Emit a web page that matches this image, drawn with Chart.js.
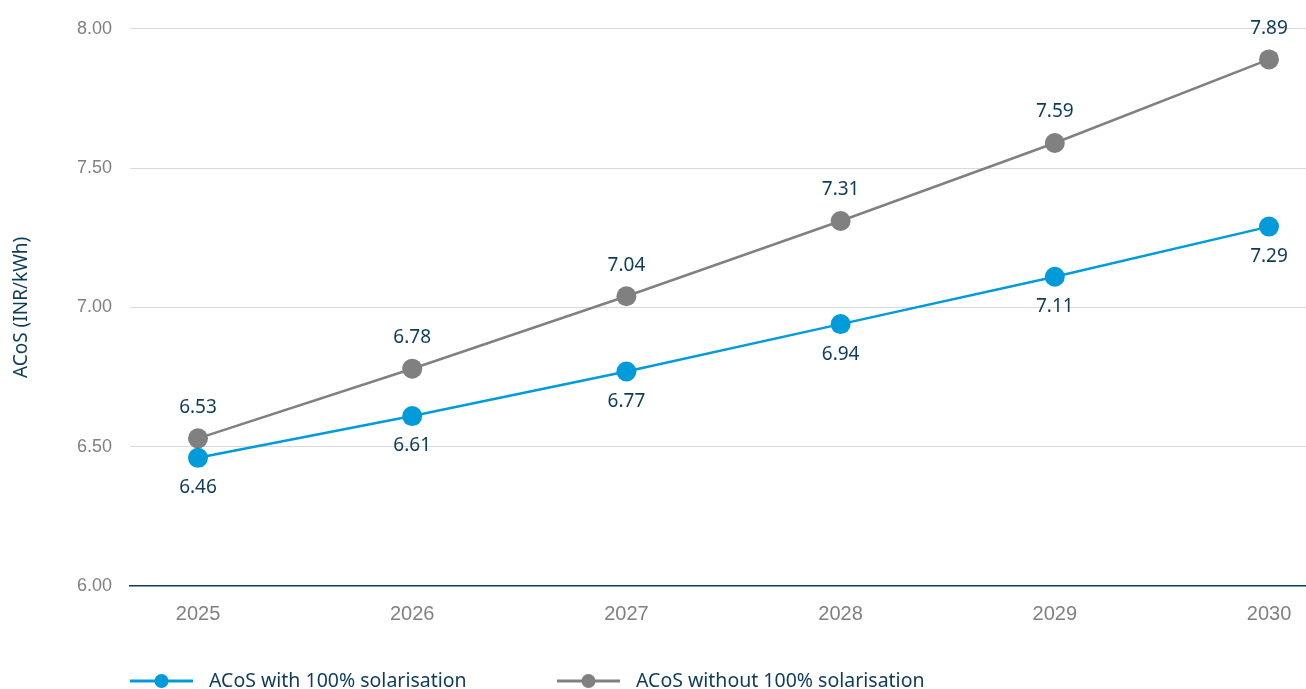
<!DOCTYPE html>
<html>
<head>
<meta charset="utf-8">
<script src="https://cdn.jsdelivr.net/npm/chart.js@4.4.1/dist/chart.umd.min.js"></script>
<style>
    html, body { margin: 0; padding: 0; background: #fff; overflow: hidden; }
    #wrap { width: 1306px; height: 689px; position: relative; }
</style>
</head>
<body>
<div id="wrap"><canvas id="acosChart"></canvas></div>
<script>
// Data
const years = [2025, 2026, 2027, 2028, 2029, 2030];
const withSolar = [6.46, 6.61, 6.77, 6.94, 7.11, 7.29];
const withoutSolar = [6.53, 6.78, 7.04, 7.31, 7.59, 7.89];
const yTicks = [6.0, 6.5, 7.0, 7.5, 8.0];
const seriesNames = ['ACoS with 100% solarisation', 'ACoS without 100% solarisation'];
const yTitle = 'ACoS (INR/kWh)';

const navy = '#0c3b5b';
const blue = '#009bd8';
const grey = '#808080';
const tickGrey = '#808080';

// value labels above / below each point
const valueLabels = {
    id: 'valueLabels',
    afterDatasetsDraw(chart) {
        const ctx = chart.ctx;
        ctx.save();
        ctx.font = '19px "Noto Sans"';
        ctx.fillStyle = navy;
        ctx.textAlign = 'center';
        ctx.textBaseline = 'middle';
        chart.data.datasets.forEach((ds, i) => {
            const meta = chart.getDatasetMeta(i);
            const dy = ds.labelSide === 'above' ? -31 : 30;
            meta.data.forEach((pt, j) => {
                ctx.fillText(ds.data[j].y.toFixed(2), pt.x, pt.y + dy);
            });
        });
        ctx.restore();
    }
};

// legend: line with dot, then label
const lineLegend = {
    id: 'lineLegend',
    afterDraw(chart) {
        const ctx = chart.ctx;
        const y = 681;
        const starts = [chart.chartArea.left, chart.chartArea.left + 427];
        ctx.save();
        ctx.font = '19.5px "Noto Sans"';
        ctx.textBaseline = 'middle';
        ctx.textAlign = 'left';
        chart.data.datasets.forEach((ds, i) => {
            const x = starts[i];
            ctx.strokeStyle = ds.borderColor;
            ctx.lineWidth = 3;
            ctx.beginPath();
            ctx.moveTo(x, y);
            ctx.lineTo(x + 63, y);
            ctx.stroke();
            ctx.fillStyle = ds.borderColor;
            ctx.beginPath();
            ctx.arc(x + 31.5, y, 7, 0, Math.PI * 2);
            ctx.fill();
            ctx.fillStyle = navy;
            ctx.fillText(ds.label, x + 79, y);
        });
        ctx.restore();
    }
};

const toPoints = arr => arr.map((v, i) => ({ x: years[i], y: v }));

new Chart(document.getElementById('acosChart'), {
    type: 'line',
    data: {
        datasets: [
            {
                label: seriesNames[0],
                data: toPoints(withSolar),
                borderColor: blue,
                backgroundColor: blue,
                pointBackgroundColor: blue,
                pointBorderWidth: 0,
                pointRadius: 10,
                borderWidth: 2.5,
                labelSide: 'below'
            },
            {
                label: seriesNames[1],
                data: toPoints(withoutSolar),
                borderColor: grey,
                backgroundColor: grey,
                pointBackgroundColor: grey,
                pointBorderWidth: 0,
                pointRadius: 10,
                borderWidth: 2.5,
                labelSide: 'above'
            }
        ]
    },
    options: {
        responsive: true,
        maintainAspectRatio: false,
        animation: false,
        layout: { autoPadding: false, padding: { top: 27, right: 0, bottom: 67, left: 0 } },
        plugins: {
            legend: { display: false },
            tooltip: { enabled: false }
        },
        scales: {
            x: {
                type: 'linear',
                min: 2024.6825,
                max: 2030.1727,
                afterBuildTicks: scale => { scale.ticks = years.map(v => ({ value: v })); },
                afterFit: scale => {
                    scale.height = 36;
                    scale.paddingLeft = 0;
                    scale.paddingRight = 0;
                },
                grid: { display: false, drawTicks: false },
                border: { display: true, color: navy, width: 1.5 },
                ticks: {
                    padding: 16,
                    color: tickGrey,
                    font: { family: 'Liberation Sans', size: 20 },
                    callback: v => String(v),
                    maxRotation: 0,
                    autoSkip: false
                }
            },
            y: {
                min: 6,
                max: 8,
                afterBuildTicks: scale => { scale.ticks = yTicks.map(v => ({ value: v })); },
                afterFit: scale => { scale.width = 130; },
                grid: {
                    drawTicks: false,
                    color: ctx => ctx.tick && ctx.tick.value === 6 ? 'rgba(0,0,0,0)' : '#d9d9d9',
                    lineWidth: 1
                },
                border: { display: false },
                ticks: {
                    padding: 18,
                    color: tickGrey,
                    font: { family: 'Liberation Sans', size: 18 },
                    callback: v => Number(v).toFixed(2)
                },
                title: {
                    display: true,
                    text: yTitle,
                    color: navy,
                    font: { family: 'Noto Sans', size: 19 },
                    padding: { top: 10, bottom: 0 }
                }
            }
        }
    },
    plugins: [valueLabels, lineLegend]
});
</script>
</body>
</html>
